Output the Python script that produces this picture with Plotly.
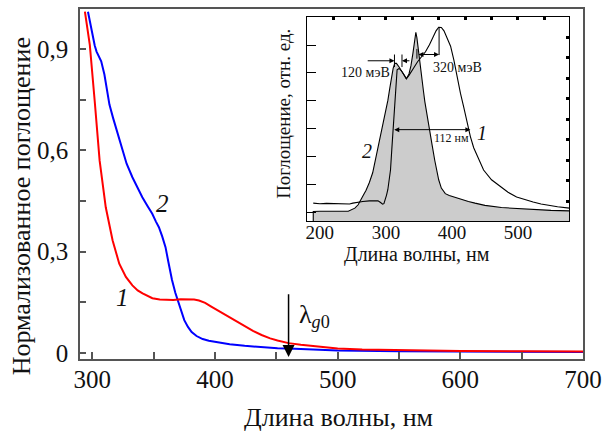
import plotly.graph_objects as go

# ---------------- main chart data ----------------
red_x = [294, 298, 302, 306, 311, 316.6, 322, 327.4, 332.7, 337, 341, 345, 349, 355, 360, 366, 372,
         378, 383, 387, 392, 397, 404, 411, 418, 424, 431, 438, 445, 451, 460, 470, 478, 490, 500,
         520, 550, 600, 650, 700]
red_y = [1.01, 0.912, 0.745, 0.569, 0.431, 0.333, 0.264, 0.225, 0.200, 0.185, 0.176, 0.168, 0.162,
         0.158, 0.157, 0.157, 0.159, 0.159, 0.158, 0.155, 0.148, 0.137, 0.122, 0.106, 0.091, 0.078,
         0.065, 0.053, 0.043, 0.037, 0.029, 0.024, 0.021, 0.017, 0.013, 0.010, 0.008, 0.006, 0.005,
         0.004]

blue_x = [296.5, 298.5, 300.5, 302, 303.5, 305.5, 307.3, 309.9, 312, 314, 317, 319.4, 322, 324.7,
          328, 332.7, 336, 340.8, 345, 348.9, 352, 354.3, 357, 359.7, 362, 363.7, 365, 367.7, 370,
          372.5, 375, 378, 381, 385, 390, 395, 402.7, 412, 424.2, 437, 451, 465, 478, 500, 550,
          600, 700]
blue_y = [1.01, 0.97, 0.941, 0.91, 0.892, 0.878, 0.863, 0.824, 0.78, 0.735, 0.695, 0.666, 0.632,
          0.598, 0.56, 0.520, 0.495, 0.461, 0.435, 0.412, 0.388, 0.372, 0.345, 0.313, 0.27, 0.235,
          0.216, 0.178, 0.150, 0.120, 0.097, 0.077, 0.062, 0.050, 0.041, 0.036, 0.031, 0.026, 0.021,
          0.017, 0.014, 0.012, 0.010, 0.007, 0.005, 0.004, 0.003]

x_ticks = [300, 350, 400, 450, 500, 550, 600, 650, 700]
x_ticktext = ["300", "", "400", "", "500", "", "600", "", "700"]
y_ticks = [0, 0.15, 0.3, 0.45, 0.6, 0.75, 0.9]
y_ticktext = ["0", "", "0,3", "", "0,6", "", "0,9"]

# ---------------- inset data ----------------
ins1_x = [190, 200, 210, 220, 230, 240, 245, 250, 257, 265, 275, 283, 288, 292, 295, 297, 299, 301,
          303, 305, 307, 309, 311, 312.5, 313.8, 315, 317, 320, 324, 328, 331, 335, 338, 343, 348,
          354, 360, 366, 370.5, 376, 380, 384, 388, 393, 398, 403, 408, 413, 418, 423, 428, 433,
          440, 448, 460, 473, 485, 498, 510, 523, 535, 548, 560, 578]
ins1_y = [0.66, 0.64, 0.65, 0.64, 0.65, 0.64, 0.63, 0.66, 0.70, 0.72, 0.74, 0.75, 0.74, 0.68, 0.62,
          0.64, 0.76, 0.95, 1.15, 1.5, 1.85, 2.6, 3.4, 4.0, 4.31, 5.0, 5.45, 5.5, 5.4, 5.25, 5.13,
          5.25, 5.35, 5.55, 5.74, 5.9, 6.1, 6.35, 6.57, 6.85, 6.98, 6.97, 6.85, 6.6, 6.3, 5.8, 5.15,
          4.6, 4.1, 3.55, 3.05, 2.65, 2.25, 1.85, 1.5, 1.25, 1.05, 0.88, 0.78, 0.70, 0.63, 0.57,
          0.53, 0.48]

ins2_x = [190, 190, 200, 215, 230, 243, 248, 253, 258, 262, 266, 270, 275, 280, 285, 290, 295, 300,
          303, 306, 309, 311, 313.5, 316, 320, 325, 331, 335, 338, 341, 343.5, 345.4, 347, 349,
          350.5, 352, 354, 357, 359, 362, 365.6, 370, 374, 377, 380, 384, 390, 396, 405, 413, 425,
          435, 450, 475, 500, 525, 550, 578]
ins2_y = [0.0, 0.36, 0.37, 0.36, 0.37, 0.37, 0.42, 0.48, 0.60, 0.75, 0.95, 1.12, 1.4, 1.75, 2.3,
          2.85, 3.45, 4.0, 4.35, 4.8, 5.25, 5.5, 5.68, 5.68, 5.55, 5.35, 5.13, 5.3, 5.6, 6.05, 6.5,
          6.8, 6.6, 6.2, 5.75, 5.45, 5.14, 4.67, 4.31, 3.85, 3.36, 2.75, 2.2, 1.81, 1.5, 1.2, 1.0,
          0.93, 0.86, 0.80, 0.72, 0.66, 0.58, 0.50, 0.46, 0.43, 0.40, 0.38]

ins_x_ticks = [200, 300, 400, 500]

FONT = '"Liberation Serif", "Times New Roman", Times, serif'
AX = "#555555"

fig = go.Figure()
fig.add_trace(go.Scatter(x=blue_x, y=blue_y, mode="lines",
                         line=dict(color="#0000ff", width=2), hoverinfo="skip"))
fig.add_trace(go.Scatter(x=red_x, y=red_y, mode="lines",
                         line=dict(color="#ff0000", width=2), hoverinfo="skip"))
fig.add_trace(go.Scatter(x=ins2_x, y=ins2_y, mode="lines", fill="tozeroy",
                         fillcolor="#cccccc", line=dict(color="black", width=1.1),
                         xaxis="x2", yaxis="y2", hoverinfo="skip"))
fig.add_trace(go.Scatter(x=ins1_x, y=ins1_y, mode="lines",
                         line=dict(color="black", width=1.1),
                         xaxis="x2", yaxis="y2", hoverinfo="skip"))
fig.add_trace(go.Scatter(x=[None], y=[None], mode="lines", xaxis="x3", yaxis="y3",
                         hoverinfo="skip"))

tickfont = dict(family=FONT, size=25, color="#111")
ins_tickfont = dict(family=FONT, size=19, color="#111")

fig.update_layout(
    width=609, height=432,
    margin=dict(l=80, r=22, t=7, b=73),
    paper_bgcolor="white", plot_bgcolor="white",
    showlegend=False,
    font=dict(family=FONT),
    xaxis=dict(range=[290, 700], tickvals=x_ticks, ticktext=x_ticktext,
               ticks="inside", ticklen=7, tickwidth=1.5, tickcolor=AX,
               showline=True, linecolor=AX, linewidth=1.5, mirror=True,
               showgrid=False, zeroline=False, tickfont=tickfont, ticklabelstandoff=-3),
    yaxis=dict(range=[-0.018, 1.018], tickvals=y_ticks, ticktext=y_ticktext,
               ticks="inside", ticklen=6, tickwidth=1.5, tickcolor=AX,
               showline=True, linecolor=AX, linewidth=1.5, mirror=True,
               showgrid=False, zeroline=False, tickfont=tickfont, ticklabelstandoff=5),
    xaxis2=dict(domain=[0.4506, 0.973], anchor="y2", range=[180, 578],
                tickvals=ins_x_ticks, ticks="", showline=True, linecolor="black",
                linewidth=1.2, mirror=True, showgrid=False, zeroline=False,
                tickfont=ins_tickfont, ticklabelstandoff=-6),
    yaxis2=dict(domain=[0.3929, 0.9773], anchor="x2", range=[0, 7.35],
                tickvals=[0.336 + k for k in range(7)], showticklabels=False,
                ticks="inside", ticklen=9, tickwidth=1, tickcolor="black",
                showline=True, linecolor="black", linewidth=1.2, mirror=True,
                showgrid=False, zeroline=False),
    xaxis3=dict(overlaying="x2", side="top", anchor="y2", range=[180, 578],
                tickvals=[180 + 40 * k for k in range(11)], showticklabels=False,
                ticks="inside", ticklen=3, tickwidth=3, tickcolor="black",
                showline=False, showgrid=False, zeroline=False),
    yaxis3=dict(overlaying="y2", side="right", anchor="x2", range=[0, 7.35],
                tickvals=[0.735 * k for k in range(11)], showticklabels=False,
                ticks="inside", ticklen=3, tickwidth=3, tickcolor="black",
                showline=False, showgrid=False, zeroline=False),
)

ann = []
# main axis titles
ann.append(dict(text="Длина волны, нм", xref="paper", yref="paper", x=0.514, y=-0.168,
                xanchor="center", yanchor="middle", showarrow=False,
                font=dict(family=FONT, size=26, color="#111")))
ann.append(dict(text="Нормализованное поглощение", xref="paper", yref="paper", x=-0.1164,
                y=0.4375, xanchor="center", yanchor="middle", textangle=-90, showarrow=False,
                font=dict(family=FONT, size=26, color="#111")))
# curve labels
ann.append(dict(text="<i>2</i>", x=357, y=0.441, xref="x", yref="y", showarrow=False,
                font=dict(family=FONT, size=25, color="#111")))
ann.append(dict(text="<i>1</i>", x=324.5, y=0.165, xref="x", yref="y", showarrow=False,
                font=dict(family=FONT, size=25, color="#111")))
# lambda_g0 arrow
ann.append(dict(text="", x=460, y=-0.012, ax=460, ay=0.178, xref="x", yref="y",
                axref="x", ayref="y", showarrow=True, arrowhead=2, arrowsize=1.6,
                arrowwidth=1.5, arrowcolor="black"))
ann.append(dict(text="λ<sub><i>g</i>0</sub>", x=466.5, y=0.11, xref="x", yref="y",
                xanchor="left", yanchor="middle", showarrow=False,
                font=dict(family=FONT, size=26, color="#111")))

# inset titles
ann.append(dict(text="Длина волны, нм", xref="paper", yref="paper", x=0.669, y=0.298,
                xanchor="center", yanchor="middle", showarrow=False,
                font=dict(family=FONT, size=20, color="#111")))
ann.append(dict(text="Поглощение, отн. ед.", xref="paper", yref="paper", x=0.4046, y=0.699,
                xanchor="center", yanchor="middle", textangle=-90, showarrow=False,
                font=dict(family=FONT, size=19, color="#111")))

# inset annotations
def arrow(x, y, ax, ay, both=False):
    d = dict(text="", x=x, y=y, ax=ax, ay=ay, xref="x2", yref="y2", axref="x2", ayref="y2",
             showarrow=True, arrowhead=2, arrowsize=1, arrowwidth=1, arrowcolor="black",
             standoff=0, startstandoff=0)
    if both:
        d["arrowside"] = "end+start"
        d["startarrowhead"] = 2
        d["startarrowsize"] = 1
    return d

ann.append(arrow(313, 5.775, 270.2, 5.775))
ann.append(arrow(324.4, 5.775, 338, 5.775))
ann.append(arrow(380.6, 6.0, 347, 6.0, both=True))
ann.append(arrow(428, 3.3, 310.4, 3.3, both=True))
ann.append(dict(text="120 мэВ", x=269, y=5.35, xref="x2", yref="y2", showarrow=False,
                font=dict(family=FONT, size=14, color="#111")))
ann.append(dict(text="320 мэВ", x=408, y=5.52, xref="x2", yref="y2", showarrow=False,
                font=dict(family=FONT, size=14, color="#111")))
ann.append(dict(text="112 нм", x=399, y=3.0, xref="x2", yref="y2", showarrow=False,
                font=dict(family=FONT, size=12, color="#111")))
ann.append(dict(text="<i>1</i>", x=445.7, y=3.18, xref="x2", yref="y2", showarrow=False,
                font=dict(family=FONT, size=20, color="#111")))
ann.append(dict(text="<i>2</i>", x=271.7, y=2.52, xref="x2", yref="y2", showarrow=False,
                font=dict(family=FONT, size=20, color="#111")))
fig.update_layout(annotations=ann)

shapes = []
for xv, y0, y1 in [(313, 5.55, 6.0), (324.4, 5.55, 6.0), (380.6, 5.98, 6.99), (347, 5.85, 6.2)]:
    shapes.append(dict(type="line", xref="x2", yref="y2", x0=xv, x1=xv, y0=y0, y1=y1,
                       line=dict(color="black", width=1)))
fig.update_layout(shapes=shapes)

fig.write_html("out.html", config={"displayModeBar": False},
               post_script="document.body.style.margin='0';")
